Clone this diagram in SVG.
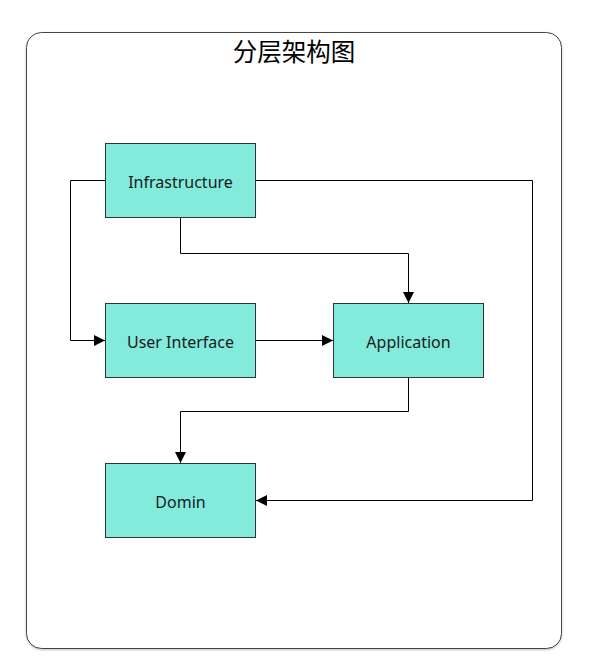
<svg xmlns="http://www.w3.org/2000/svg" width="592" height="668" viewBox="0 0 592 668">
<style>
.node rect{fill:#82ebdc;stroke:#333;stroke-width:1}
.node text{font-family:"Noto Sans","Noto Sans CJK SC",sans-serif;font-size:16px;fill:#1a1a1a;text-anchor:middle;dominant-baseline:central}
.conn path{fill:none;stroke:#000;stroke-width:1}
</style>
<defs>
<marker id="arr" viewBox="0 0 10 10" refX="10" refY="5" markerWidth="11" markerHeight="11" markerUnits="userSpaceOnUse" orient="auto">
<path d="M0,0 L10,5 L0,10 Z" fill="#000"/>
</marker>
<filter id="sh" x="-5%" y="-5%" width="110%" height="110%">
<feDropShadow dx="0" dy="1" stdDeviation="1" flood-color="#000" flood-opacity="0.25"/>
</filter>
</defs>
<g id="container">
<rect x="26.5" y="32.5" width="535" height="616" rx="15" ry="15" fill="#fff" stroke="#444" stroke-width="1" filter="url(#sh)"/>
<text x="294" y="61" font-family="'Noto Sans CJK SC',sans-serif" font-size="24.5" text-anchor="middle" fill="#000">分层架构图</text>
</g>
<g class="conn" id="connectors">
<path d="M105.5,180.5 H70.5 V340.5 H105" marker-end="url(#arr)"/>
<path d="M180.5,218 V253.5 H408.5 V303" marker-end="url(#arr)"/>
<path d="M255.5,180.5 H532.5 V500.5 H256" marker-end="url(#arr)"/>
<path d="M255.5,340.5 H333" marker-end="url(#arr)"/>
<path d="M408.5,378 V411.5 H180.5 V463" marker-end="url(#arr)"/>
</g>
<g class="node" id="infrastructure">
<rect x="105.5" y="143.5" width="150" height="74"/>
<text x="180.5" y="182">Infrastructure</text>
</g>
<g class="node" id="user-interface">
<rect x="105.5" y="303.5" width="150" height="74"/>
<text x="180.5" y="342">User Interface</text>
</g>
<g class="node" id="application">
<rect x="333.5" y="303.5" width="150" height="74"/>
<text x="408.5" y="342">Application</text>
</g>
<g class="node" id="domin">
<rect x="105.5" y="463.5" width="150" height="74"/>
<text x="180.5" y="502">Domin</text>
</g>
</svg>
